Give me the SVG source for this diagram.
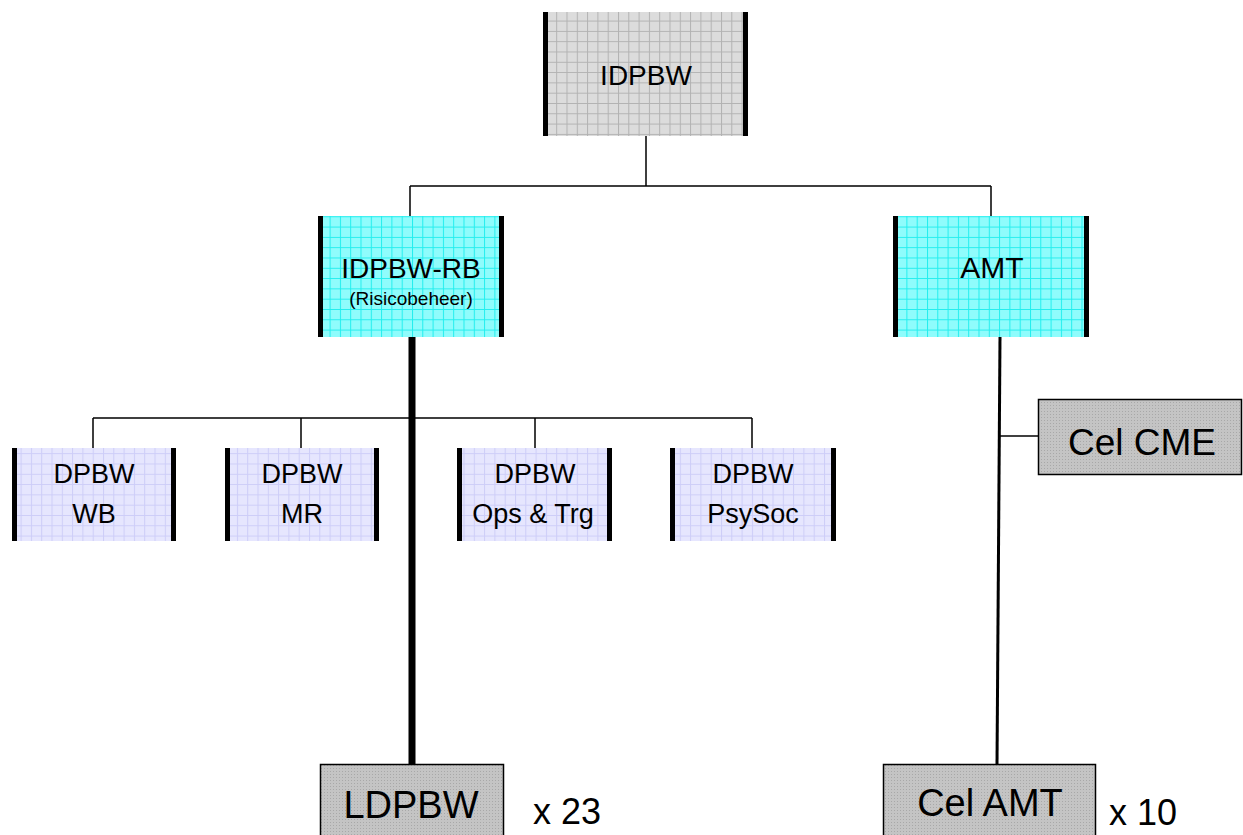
<svg xmlns="http://www.w3.org/2000/svg" width="1243" height="835" viewBox="0 0 1243 835">
<style>
.t{font-family:"Comic Sans MS","Liberation Sans",sans-serif;fill:#000;text-anchor:middle}
.c{stroke:#000;stroke-width:1.5;fill:none}
.bar{fill:#000}
</style>
<defs>
<pattern id="pg" width="10.3" height="10.3" patternUnits="userSpaceOnUse">
<rect width="10.3" height="10.3" fill="#dcdcdc"/>
<path d="M0 0.5H10.3M0.5 0V10.3" stroke="#b2b2b2" stroke-width="1"/>
</pattern>
<pattern id="pc" width="10.3" height="10.3" patternUnits="userSpaceOnUse">
<rect width="10.3" height="10.3" fill="#8ffcfc"/>
<path d="M0 0.5H10.3M0.5 0V10.3" stroke="#22eeee" stroke-width="1"/>
</pattern>
<pattern id="pl" width="10.3" height="10.3" patternUnits="userSpaceOnUse">
<rect width="10.3" height="10.3" fill="#e6e6fe"/>
<path d="M0 0.5H10.3M0.5 0V10.3" stroke="#cdcdf8" stroke-width="1"/>
</pattern>
<pattern id="pd" width="3" height="3" patternUnits="userSpaceOnUse">
<rect width="3" height="3" fill="#c4c4c4"/>
<rect width="1" height="1" fill="#a8a8a8"/>
</pattern>
</defs>

<g id="connectors">
<path class="c" d="M646 136V186M410 186H991M410 186V216M991 186V216"/>
<path class="c" d="M93 418H752M93 418V448M301 418V448M535 418V448M752 418V448"/>
<path class="c" d="M999 436H1038"/>
<line x1="412" y1="337" x2="412" y2="764" stroke="#000" stroke-width="7"/>
<line x1="1000" y1="337" x2="997" y2="764" stroke="#000" stroke-width="3"/>
</g>

<g id="idpbw">
<rect x="543" y="12" width="205" height="124" fill="url(#pg)"/>
<rect class="bar" x="543" y="12" width="5" height="124"/>
<rect class="bar" x="743" y="12" width="5" height="124"/>
<text class="t" x="646" y="85" font-size="28">IDPBW</text>
</g>

<g id="idpbw-rb">
<rect x="318" y="216" width="186" height="121" fill="url(#pc)"/>
<rect class="bar" x="318" y="216" width="5" height="121"/>
<rect class="bar" x="499" y="216" width="5" height="121"/>
<text class="t" x="411" y="278" font-size="28">IDPBW-RB</text>
<text class="t" x="411" y="305" font-size="19">(Risicobeheer)</text>
</g>

<g id="amt">
<rect x="893" y="216" width="196" height="121" fill="url(#pc)"/>
<rect class="bar" x="893" y="216" width="5" height="121"/>
<rect class="bar" x="1084" y="216" width="5" height="121"/>
<text class="t" x="992" y="278" font-size="30">AMT</text>
</g>

<g id="dpbw-wb">
<rect x="12" y="448" width="164" height="93" fill="url(#pl)"/>
<rect class="bar" x="12" y="448" width="5" height="93"/>
<rect class="bar" x="171" y="448" width="5" height="93"/>
<text class="t" x="94" y="483" font-size="27">DPBW</text>
<text class="t" x="94" y="523" font-size="27">WB</text>
</g>

<g id="dpbw-mr">
<rect x="225" y="448" width="154" height="93" fill="url(#pl)"/>
<rect class="bar" x="225" y="448" width="5" height="93"/>
<rect class="bar" x="374" y="448" width="5" height="93"/>
<text class="t" x="302" y="483" font-size="27">DPBW</text>
<text class="t" x="302" y="523" font-size="27">MR</text>
</g>

<g id="dpbw-ops">
<rect x="457" y="448" width="155" height="93" fill="url(#pl)"/>
<rect class="bar" x="457" y="448" width="5" height="93"/>
<rect class="bar" x="607" y="448" width="5" height="93"/>
<text class="t" x="535" y="483" font-size="27">DPBW</text>
<text class="t" x="533" y="523" font-size="27">Ops &amp; Trg</text>
</g>

<g id="dpbw-psysoc">
<rect x="670" y="448" width="166" height="93" fill="url(#pl)"/>
<rect class="bar" x="670" y="448" width="5" height="93"/>
<rect class="bar" x="831" y="448" width="5" height="93"/>
<text class="t" x="753" y="483" font-size="27">DPBW</text>
<text class="t" x="753" y="523" font-size="27">PsySoc</text>
</g>

<g id="cel-cme">
<rect x="1038.5" y="399.5" width="203" height="75" fill="url(#pd)" stroke="#000" stroke-width="1.5"/>
<text class="t" x="1142" y="455" font-size="37">Cel CME</text>
</g>

<g id="ldpbw">
<rect x="320.5" y="764.5" width="183" height="80" fill="url(#pd)" stroke="#000" stroke-width="1.5"/>
<text class="t" x="411" y="818" font-size="38">LDPBW</text>
</g>
<text class="t" x="567" y="824" font-size="36">x 23</text>

<g id="cel-amt">
<rect x="883.5" y="764.5" width="212" height="80" fill="url(#pd)" stroke="#000" stroke-width="1.5"/>
<text class="t" x="990" y="816" font-size="38">Cel AMT</text>
</g>
<text class="t" x="1143" y="825" font-size="36">x 10</text>
</svg>
